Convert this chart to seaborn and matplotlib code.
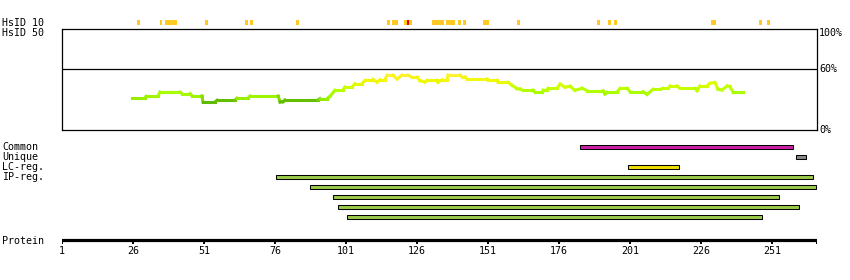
import matplotlib
matplotlib.use("Agg")
import matplotlib.pyplot as plt
from matplotlib.collections import LineCollection
from matplotlib.colors import LinearSegmentedColormap, Normalize
import seaborn as sns

# ---------------- data ----------------
prot_len = 267
tick_positions = [1, 26, 51, 76, 101, 126, 151, 176, 201, 226, 251]
tick_labels = ["1", "26", "51", "76", "101", "126", "151", "176", "201", "226", "251"]

hsid10_residues = [27, 35, 37, 38, 39, 40, 51, 65, 67, 83, 115, 117, 118, 121, 122, 123,
                   131, 132, 133, 134, 136, 137, 138, 140, 142, 149, 150, 161, 189, 193,
                   195, 229, 230, 246, 249]
hsid10_red = [122]

cons_pos = [25.6, 30.2, 30.6, 34.8, 35.5, 42.5, 43.3, 46.1, 46.8, 50.3, 50.6, 54.9, 55.6,
            61.9, 62.6, 66.5, 67.2, 77.1, 77.8, 78.8, 79.5, 91.1, 91.8, 94.3, 95.4, 97.1,
            99.9, 100.6, 103.1, 104.2, 106.6, 107.7, 110.2, 110.5, 111.9, 113.0, 114.7,
            115.4, 117.5, 119.0, 120.7, 122.8, 124.2, 126.0, 127.1, 128.8, 129.5, 133.0,
            133.4, 134.8, 136.6, 136.9, 141.1, 141.8, 142.9, 143.6, 150.6, 151.0, 154.2,
            154.5, 158.0, 159.5, 161.2, 162.3, 163.3, 166.8, 167.5, 170.0, 170.4, 171.8,
            172.1, 175.3, 176.4, 178.1, 179.9, 181.6, 184.1, 185.9, 191.5, 192.2, 192.9,
            196.4, 197.5, 199.9, 201.0, 205.6, 207.0, 209.1, 211.6, 212.6, 214.4, 215.1,
            217.5, 218.6, 223.9, 224.6, 225.6, 228.1, 229.2, 230.9, 232.0, 233.4, 235.2,
            236.2, 237.3, 240.8]
cons_val = [31.4, 31.4, 33.4, 33.4, 37.6, 37.6, 36.0, 36.0, 33.7, 33.7, 27.7, 27.7, 29.4,
            29.4, 31.4, 31.4, 33.7, 33.7, 27.7, 28.0, 29.7, 29.7, 31.0, 31.0, 33.4, 39.3,
            39.3, 42.6, 42.6, 45.9, 45.9, 49.2, 49.2, 50.0, 47.5, 49.8, 49.8,
            54.1, 54.1, 50.5, 54.4, 54.4, 52.2, 52.2, 48.8, 47.5, 49.2, 49.2,
            47.2, 49.8, 49.8, 54.4, 54.4, 52.5, 52.5, 50.5, 50.5, 49.2, 49.2,
            47.2, 47.2, 44.2, 40.9, 40.6, 39.3, 39.3, 37.3, 37.3, 39.3, 39.3,
            41.3, 41.3, 45.5, 42.3, 43.3, 39.3, 41.3, 38.9, 38.9, 35.6, 37.3,
            37.3, 41.3, 41.3, 38.0, 38.0, 35.3, 40.3, 40.3, 41.3, 41.3, 43.6,
            43.6, 41.3, 41.3, 38.9, 43.6, 43.6, 46.2, 47.0, 40.3, 39.6, 43.6,
            42.9, 37.3, 37.3]

common = [(183, 258)]
unique = [(259, 262.5)]
lc_reg = [(200, 218)]
ip_reg = [(76, 265), (88, 266), (96, 253), (98, 260), (101, 247)]

# ---------------- style ----------------
sns.set_theme(style="white")
plt.rcParams["font.family"] = ["DejaVu Sans Mono", "DejaVu Sans"]
FS = 7.2

W, H = 850, 280
PXR = 2.84                      # pixels per residue
XMIN = 1
XMAX = 1 + 755 / PXR
OFF = 0.35                      # residue cells start one pixel in

fig = plt.figure(figsize=(W / 100, H / 100), dpi=100)
fig.patch.set_facecolor("white")

# track axes (pixel rows on y)
ax_t = fig.add_axes([62 / W, 0, 755 / W, 1])
ax_t.set_xlim(XMIN, XMAX)
ax_t.set_ylim(H, 0)
ax_t.axis("off")
ax_t.patch.set_alpha(0)

# conservation axes
ax_c = fig.add_axes([62 / W, 1 - 130 / H, 755 / W, 101 / H])
ax_c.set_xlim(XMIN, XMAX)
ax_c.set_ylim(0, 100)
ax_c.patch.set_alpha(0)
for s in ax_c.spines.values():
    s.set_visible(True)
    s.set_color("black")
    s.set_linewidth(0.9)
ax_c.set_xticks([])
ax_c.set_yticks([])
ax_c.axhline(60, color="black", lw=0.9)

for val, lab, dy in [(100, "100%", -3.0), (60, "60%", 0), (0, "0%", 0)]:
    ax_c.annotate(lab, xy=(1, val), xycoords=("axes fraction", "data"),
                  xytext=(1.6, dy), textcoords="offset points",
                  ha="left", va="center", fontsize=FS, color="black",
                  annotation_clip=False)

# conservation line coloured by value
cmap = LinearSegmentedColormap.from_list(
    "cons",
    [(0.0, "#5cb800"), (0.11, "#66c000"), (0.15, "#99ee00"), (0.40, "#aaff00"),
     (0.60, "#d4ff00"), (0.78, "#eefa00"), (1.0, "#fff030")])
norm = Normalize(27, 54.5)
pts = list(zip(cons_pos, cons_val))
segs = [[pts[i], pts[i + 1]] for i in range(len(pts) - 1)]
cols = [cmap(norm((cons_val[i] + cons_val[i + 1]) / 2)) for i in range(len(pts) - 1)]
lc = LineCollection(segs, colors=cols, linewidths=2.2, capstyle="projecting",
                    joinstyle="miter")
ax_c.add_collection(lc)

# HsID 10 marks
hs_cols = ["#dd0000" if r in hsid10_red else "#ffc822" for r in hsid10_residues]
ax_t.bar([r + OFF for r in hsid10_residues], 5, bottom=19.5, width=1, align="edge",
         color=hs_cols, linewidth=0)

# feature bars
def draw_bars(spans, row_y, color):
    for (a, b), y in zip(spans, row_y):
        ax_t.barh(y, b - a, left=a + OFF, height=4, color=color,
                  edgecolor="black", linewidth=0.75)

draw_bars(common, [147], "#cc1fa8")
draw_bars(unique, [157], "#888888")
draw_bars(lc_reg, [167], "#f0dc00")
draw_bars(ip_reg, [177, 187, 197, 207, 217], "#99c94a")

# protein ruler
ax_t.hlines(240, 1, prot_len, color="black", lw=2.3)
ax_t.vlines(tick_positions + [prot_len], 238.5, 244, color="black", lw=1.4)
for p, lab in zip(tick_positions, tick_labels):
    ax_t.text(p, 251.5, lab, ha="center", va="center", fontsize=FS, color="black")

# row labels
for lab, y in [("HsID 10", 22.5), ("HsID 50", 33.3), ("Common", 147.3), ("Unique", 157.3),
               ("LC-reg.", 167.3), ("IP-reg.", 177.3), ("Protein", 240.5)]:
    fig.text(2 / W, 1 - y / H, lab, ha="left", va="center", fontsize=FS, color="black")

fig.savefig("out.png", dpi=100, facecolor="white")
